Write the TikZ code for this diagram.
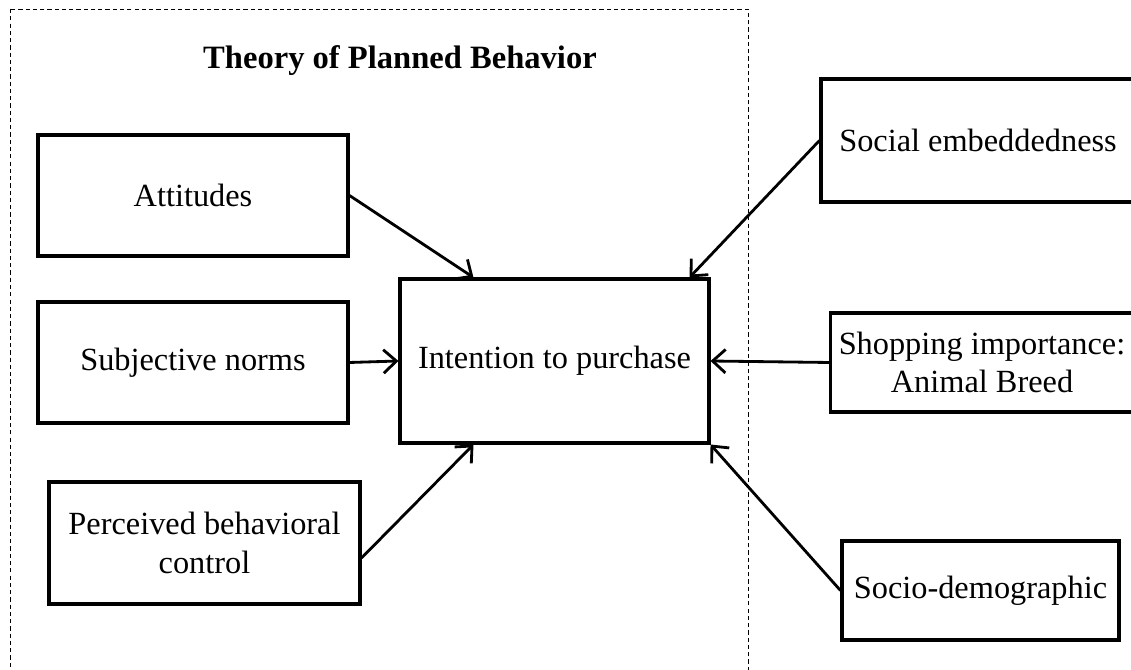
\documentclass[tikz,border=0pt]{standalone}
\usepackage{fontspec}
\setmainfont{Liberation Serif}
\usepackage{tikz}
\usetikzlibrary{arrows.meta}
\usetikzlibrary{positioning}
\usetikzlibrary{calc}

\begin{document}
\begin{tikzpicture}[>={Straight Barb[length=5.5pt,width=10pt]}]
				\tikzstyle{factornode}=[draw=black, line width=1.3pt, minimum width=46.5mm, minimum height=18.15mm, fill=none, text=black, align=center, font=\fontsize{13.8}{16.4}\selectfont]
				\tikzstyle{outernode}=[factornode, minimum height=14.85mm]
				\tikzstyle{linkarrow}=[->, line width=1.2pt, black]
				
				\clip (0,0) rectangle (16.965,10.05);
				
				% dashed frame of the TPB block
				\draw [dash pattern=on 1.8pt off 1.3pt, line width=0.4pt] (0.15,9.915) rectangle (11.22,-0.3);
				\node (tpb) at (6.0,9.1425) [font=\fontsize{13.9}{16.4}\selectfont\bfseries] {Theory of Planned Behavior};
				
				\node (att) at (2.895,7.1175) [factornode] {Attitudes};
				\node (subj) at (2.895,4.6125) [factornode] {Subjective norms};
				\node (pbc) at (3.0675,1.905) [factornode, minimum width=46.65mm, minimum height=18.3mm] {Perceived behavioral\\control};
				
				\node (intent) at (8.3175,4.635) [factornode, minimum width=46.35mm, minimum height=24.6mm] {Intention to purchase};
				
				\node (social) at (14.67,7.9425) [factornode, minimum width=47.1mm, minimum height=18.45mm] {Social embeddedness};
				\node (shop) at (14.73,4.6125) [outernode, minimum width=45.3mm] {Shopping importance:\\Animal Breed};
				\node (socio) at (14.7075,1.1925) [outernode, minimum width=41.55mm] {Socio-demographic};
				
				\draw [linkarrow] (att.east) -- ([xshift=11.25mm]intent.north west);
				\draw [linkarrow] (subj.east) -- (intent.west);
				\draw [linkarrow] ([yshift=-2.25mm]pbc.east) -- ([xshift=11.25mm]intent.south west);
				
				\draw [linkarrow] (social.west) -- ([xshift=-3.15mm]intent.north east);
				\draw [linkarrow] (shop.west) -- (intent.east);
				\draw [linkarrow] (socio.west) -- (intent.south east);
				
\end{tikzpicture}
\end{document}
